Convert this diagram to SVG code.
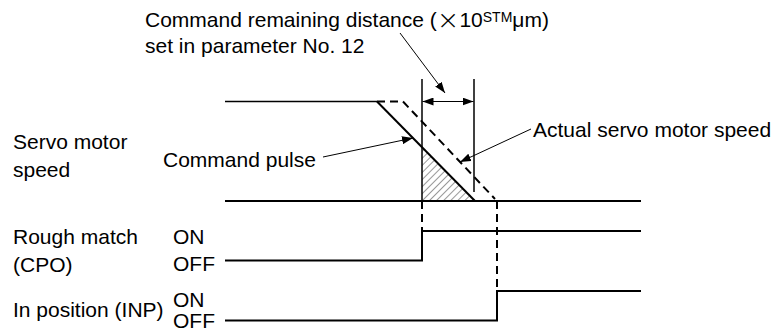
<svg xmlns="http://www.w3.org/2000/svg" width="777" height="332" viewBox="0 0 777 332">
<style>
text{font-family:"Liberation Sans",Arial,sans-serif;font-size:21px;fill:#000}
.sig{fill:none;stroke:#000;stroke-width:2}
.thin{fill:none;stroke:#000;stroke-width:1}
.ext{fill:none;stroke:#000;stroke-width:1.5}
.dash{fill:none;stroke:#000;stroke-width:2;stroke-dasharray:8 5}
</style>
<defs>
<marker id="ah" markerUnits="userSpaceOnUse" markerWidth="12" markerHeight="8" refX="11" refY="4" orient="auto">
<path d="M0,0 L11,4 L0,8 z" fill="#000"/>
</marker>
<pattern id="hatch" width="5" height="5" patternUnits="userSpaceOnUse" patternTransform="rotate(45)">
<line x1="0" y1="0" x2="0" y2="5" stroke="#333" stroke-width="1"/>
</pattern>
</defs>
<rect width="777" height="332" fill="#fff"/>
<g id="title">
<text x="145" y="27">Command remaining distance (<tspan font-size="27" dy="2" font-family="DejaVu Sans" font-weight="200">×</tspan><tspan dy="-2">10</tspan><tspan font-size="14" dy="-5">STM</tspan><tspan dy="5">μm)</tspan></text>
<text x="145" y="53">set in parameter No. 12</text>
</g>
<g id="speed-label">
<text x="13" y="149">Servo motor</text>
<text x="13" y="177">speed</text>
</g>
<g id="command-pulse-label"><text x="163" y="167">Command pulse</text></g>
<g id="actual-label"><text x="533" y="137">Actual servo motor speed</text></g>
<g id="cpo-label">
<text x="13" y="244">Rough match</text>
<text x="13" y="272">(CPO)</text>
<text x="173" y="244">ON</text>
<text x="173" y="271">OFF</text>
</g>
<g id="inp-label">
<text x="13" y="317">In position (INP)</text>
<text x="173" y="307">ON</text>
<text x="173" y="328">OFF</text>
</g>
<g id="speed-chart">
<polygon points="422,147 422,201 475,201" fill="url(#hatch)"/>
<line class="ext" x1="225" y1="101.5" x2="377" y2="101.5"/>
<line class="sig" x1="377" y1="101.5" x2="475" y2="201"/>
<polyline class="dash" points="377,101.5 403,101.5 495,199"/>
<line class="sig" x1="225" y1="201" x2="641" y2="201"/>
<line class="ext" x1="422" y1="79" x2="422" y2="201"/>
<line class="ext" x1="474" y1="79" x2="474" y2="192"/>
</g>
<g id="cpo-signal">
<polyline class="sig" points="225,260.5 422,260.5 422,231 641,231"/>
</g>
<g id="inp-signal">
<polyline class="sig" points="225,320.5 497,320.5 497,291 641,291"/>
</g>
<g id="connectors">
<line class="dash" x1="422" y1="201" x2="422" y2="231"/>
<line class="dash" x1="497" y1="201" x2="497" y2="291"/>
<line class="thin" x1="448" y1="101.5" x2="422.5" y2="101.5" marker-end="url(#ah)"/>
<line class="thin" x1="448" y1="101.5" x2="473.5" y2="101.5" marker-end="url(#ah)"/>
<line class="thin" x1="400" y1="33" x2="445" y2="93" marker-end="url(#ah)"/>
<line class="thin" x1="323" y1="157" x2="413" y2="138" marker-end="url(#ah)"/>
<line class="thin" x1="531" y1="129" x2="460" y2="162" marker-end="url(#ah)"/>
</g>
</svg>
